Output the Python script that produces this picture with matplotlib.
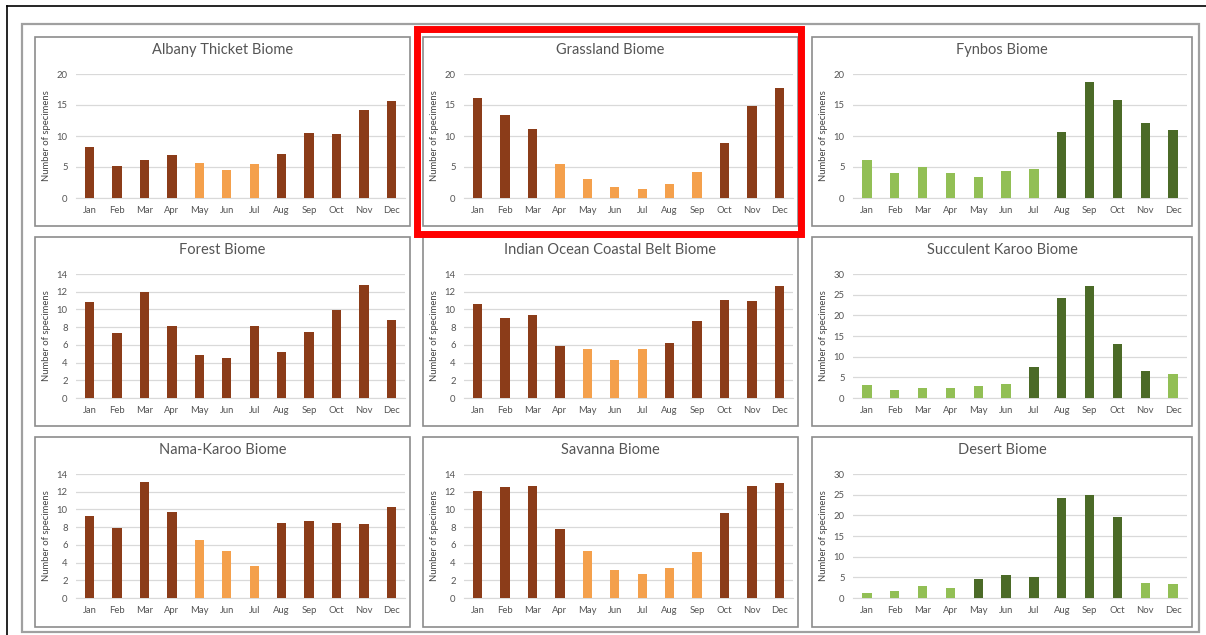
import matplotlib.pyplot as plt
from matplotlib.patches import Rectangle

plt.rcParams['font.family'] = ['Lato', 'DejaVu Sans']

months = ['Jan', 'Feb', 'Mar', 'Apr', 'May', 'Jun', 'Jul', 'Aug', 'Sep', 'Oct', 'Nov', 'Dec']

titles = ['Albany Thicket Biome', 'Grassland Biome', 'Fynbos Biome',
          'Forest Biome', 'Indian Ocean Coastal Belt Biome', 'Succulent Karoo Biome',
          'Nama-Karoo Biome', 'Savanna Biome', 'Desert Biome']

albany = [8.3, 5.2, 6.2, 6.9, 5.7, 4.5, 5.5, 7.1, 10.5, 10.4, 14.2, 15.6]
grassland = [16.2, 13.4, 11.1, 5.5, 3.1, 1.7, 1.5, 2.2, 4.2, 8.8, 14.8, 17.8]
fynbos = [6.1, 4.1, 5.0, 4.1, 3.4, 4.3, 4.7, 10.6, 18.7, 15.8, 12.1, 11.0]
forest = [10.8, 7.3, 12.0, 8.1, 4.9, 4.5, 8.1, 5.2, 7.5, 9.9, 12.8, 8.8]
indian_ocean = [10.6, 9.0, 9.4, 5.9, 5.5, 4.3, 5.5, 6.2, 8.7, 11.1, 11.0, 12.7]
succulent = [3.1, 2.0, 2.4, 2.3, 2.9, 3.4, 7.6, 24.2, 27.0, 13.0, 6.6, 5.8]
nama = [9.3, 7.9, 13.1, 9.7, 6.5, 5.3, 3.6, 8.5, 8.7, 8.5, 8.4, 10.3]
savanna = [12.1, 12.5, 12.6, 7.8, 5.3, 3.2, 2.7, 3.4, 5.2, 9.6, 12.7, 13.0]
desert = [1.2, 1.6, 2.9, 2.4, 4.7, 5.5, 5.1, 24.3, 25.0, 19.6, 3.6, 3.4]

# 1 = peak season (dark), 0 = off season (light)
albany_peak = [1, 1, 1, 1, 0, 0, 0, 1, 1, 1, 1, 1]
grassland_peak = [1, 1, 1, 0, 0, 0, 0, 0, 0, 1, 1, 1]
fynbos_peak = [0, 0, 0, 0, 0, 0, 0, 1, 1, 1, 1, 1]
forest_peak = [1] * 12
indian_ocean_peak = [1, 1, 1, 1, 0, 0, 0, 1, 1, 1, 1, 1]
succulent_peak = [0, 0, 0, 0, 0, 0, 1, 1, 1, 1, 1, 0]
nama_peak = [1, 1, 1, 1, 0, 0, 0, 1, 1, 1, 1, 1]
savanna_peak = [1, 1, 1, 1, 0, 0, 0, 0, 0, 1, 1, 1]
desert_peak = [0, 0, 0, 0, 1, 1, 1, 1, 1, 1, 0, 0]

values = [albany, grassland, fynbos, forest, indian_ocean, succulent, nama, savanna, desert]
peaks = [albany_peak, grassland_peak, fynbos_peak, forest_peak, indian_ocean_peak,
         succulent_peak, nama_peak, savanna_peak, desert_peak]
ymax = [20, 20, 20, 14, 14, 30, 14, 14, 30]
ystep = [5, 5, 5, 2, 2, 5, 2, 2, 5]
palette = ['brown', 'brown', 'green', 'brown', 'brown', 'green', 'brown', 'brown', 'green']

colors = {'brown': ('#8b3c19', '#f4a04c'), 'green': ('#4b6a27', '#92bf55')}

W, H = 1206, 635
fig = plt.figure(figsize=(W / 100, H / 100), dpi=100)


def fx(px):
    return px / W


def fy(py):
    return 1 - py / H


def box(x0, y0, x1, y1, color, lw):
    fig.patches.append(Rectangle((fx(x0), fy(y1)), fx(x1) - fx(x0), fy(y0) - fy(y1),
                                 transform=fig.transFigure, fill=False,
                                 edgecolor=color, linewidth=lw, zorder=5))


# page border and composite frame
fig.add_artist(plt.Line2D([fx(7), fx(7)], [fy(6), 0], color='black', lw=1.2, transform=fig.transFigure))
fig.add_artist(plt.Line2D([fx(7), 1], [fy(6), fy(6)], color='black', lw=1.2, transform=fig.transFigure))
box(22, 24, 1199, 632, '#a0a0a0', 1.6)

col_x = [(35, 410), (423, 798), (812, 1192)]
row_y = [(37, 226), (237, 426), (437, 627)]

for i in range(9):
    r, c = divmod(i, 3)
    x0, x1 = col_x[c]
    y0, y1 = row_y[r]
    box(x0, y0, x1, y1, '#8c8c8c', 1.2)

    ax = fig.add_axes([fx(x0 + 41), fy(y0 + 161), fx(x1 - 5) - fx(x0 + 41), fy(y0 + 37) - fy(y0 + 161)])
    dark, light = colors[palette[i]]
    bar_colors = [dark if p else light for p in peaks[i]]
    ax.bar(range(12), values[i], width=0.34, color=bar_colors, zorder=3)
    ax.set_xlim(-0.5, 11.5)
    ax.set_ylim(0, ymax[i])
    ax.set_yticks(range(0, ymax[i] + 1, ystep[i]))
    ax.set_xticks(range(12))
    ax.set_xticklabels(months)
    ax.tick_params(length=0, labelsize=6.8, colors='#555555', pad=6)
    ax.grid(axis='y', color='#d9d9d9', linewidth=0.9, zorder=0)
    for s in ['top', 'right', 'left']:
        ax.spines[s].set_visible(False)
    ax.spines['bottom'].set_color('#d9d9d9')
    ax.set_ylabel('Number of specimens', fontsize=6.8, color='#444444', labelpad=4)
    fig.text(fx((x0 + x1) / 2), fy(y0 + 13), titles[i], ha='center', va='center',
             fontsize=10.5, color='#555555')

# highlight box round the grassland panel
box(417, 29, 801, 234, '#ff0000', 5)

fig.savefig('out.png', dpi=100)
